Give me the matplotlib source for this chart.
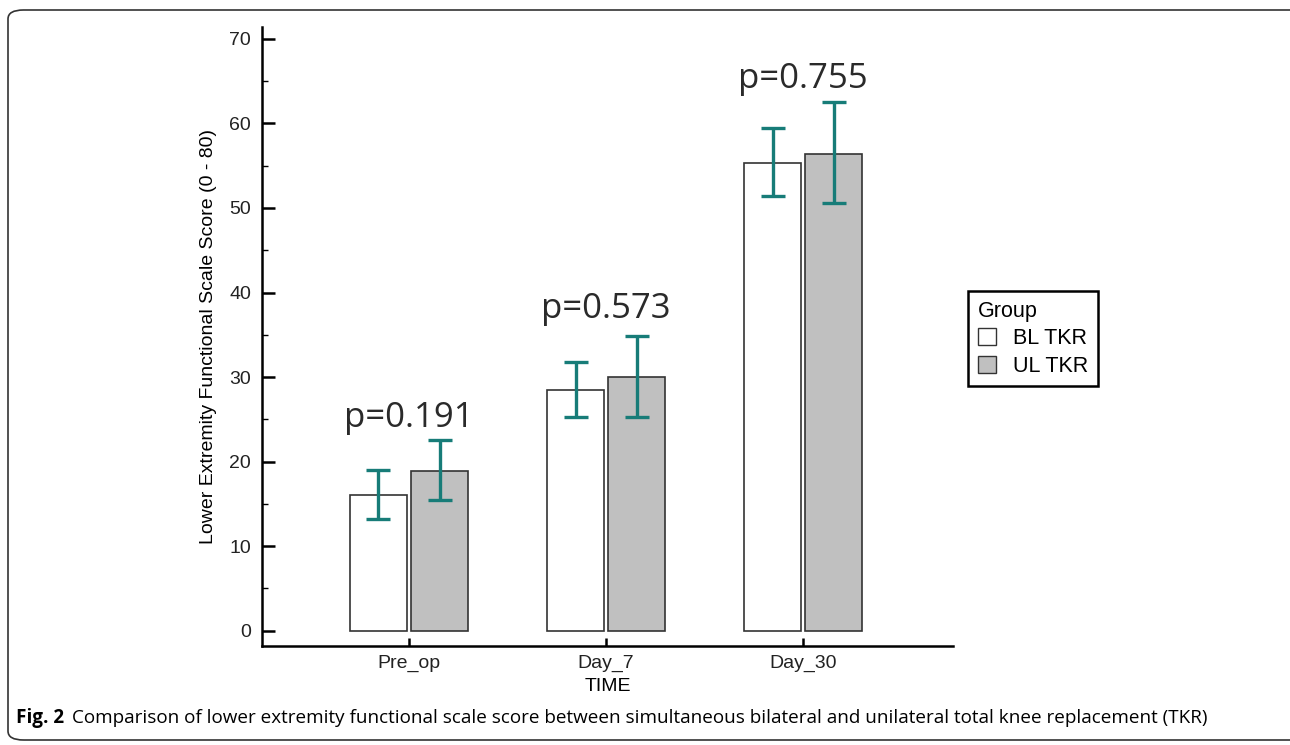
import matplotlib.pyplot as plt
import numpy as np
from matplotlib.patches import FancyBboxPatch, Patch

# data
times = ["Pre_op", "Day_7", "Day_30"]
bl_mean = [16.1, 28.5, 55.3]
bl_low = [13.2, 25.3, 51.4]
bl_high = [19.0, 31.8, 59.5]
ul_mean = [18.9, 30.0, 56.4]
ul_low = [15.5, 25.3, 50.6]
ul_high = [22.5, 34.8, 62.5]
p_labels = ["p=0.191", "p=0.573", "p=0.755"]
p_heights = [25.2, 38.0, 65.2]

teal = "#177c78"
edge = "#333333"

fig = plt.figure(figsize=(12.9, 7.45), dpi=100)
ax = fig.add_axes([0.2031, 0.1329, 0.5357, 0.8309])

x = np.arange(len(times))
w = 0.29
off = 0.155

bl_err = [np.subtract(bl_mean, bl_low), np.subtract(bl_high, bl_mean)]
ul_err = [np.subtract(ul_mean, ul_low), np.subtract(ul_high, ul_mean)]

ax.bar(x - off, bl_mean, w, color="white", edgecolor=edge, linewidth=1.2, zorder=2)
ax.bar(x + off, ul_mean, w, color="#c0c0c0", edgecolor=edge, linewidth=1.2, zorder=2)
ax.errorbar(x - off, bl_mean, yerr=bl_err, fmt="none", ecolor=teal,
            elinewidth=2.4, capsize=8.5, capthick=2.4, zorder=3)
ax.errorbar(x + off, ul_mean, yerr=ul_err, fmt="none", ecolor=teal,
            elinewidth=2.4, capsize=8.5, capthick=2.4, zorder=3)

for xi, lab, h in zip(x, p_labels, p_heights):
    ax.text(xi, h, lab, ha="center", va="center", fontsize=25,
            family="Open Sans", color="#2a2a2a")

ax.set_xlim(-0.746, 2.761)
ax.set_ylim(-1.8, 71.4)
ax.set_yticks(np.arange(0, 71, 10))
ax.set_yticks(np.arange(5, 70, 10), minor=True)
ax.set_xticks(x)
ax.set_xticklabels(times)
for s in ["top", "right"]:
    ax.spines[s].set_visible(False)
for s in ["left", "bottom"]:
    ax.spines[s].set_linewidth(1.8)
ax.tick_params(axis="y", which="major", direction="in", length=9.5, width=1.8,
               labelsize=14, pad=8)
ax.tick_params(axis="y", which="minor", direction="in", length=4.3, width=1)
ax.tick_params(axis="x", direction="in", length=6, width=1.8, labelsize=14, pad=6)
for lab in ax.get_xticklabels() + ax.get_yticklabels():
    lab.set_family("Liberation Sans")
    lab.set_color("#222222")

ax.set_xlabel("TIME", fontsize=14, family="Liberation Sans", labelpad=5)
ax.set_ylabel("Lower Extremity Functional Scale Score (0 - 80)", fontsize=14,
              family="Liberation Sans", labelpad=9)

handles = [Patch(facecolor="white", edgecolor=edge, linewidth=1),
           Patch(facecolor="#c0c0c0", edgecolor=edge, linewidth=1)]
leg = fig.legend(handles, ["BL TKR", "UL TKR"], title="Group", loc="upper left",
                 bbox_to_anchor=(0.7504, 0.6094), borderaxespad=0,
                 fancybox=False, framealpha=1,
                 edgecolor="black", handlelength=0.85, handleheight=0.85,
                 handletextpad=0.8, borderpad=0.45, labelspacing=0.3,
                 prop={"family": "Liberation Sans", "size": 15.5},
                 title_fontproperties={"family": "Liberation Sans", "size": 15.5},
                 alignment="left")
leg.get_frame().set_linewidth(1.8)

# rounded frame around the figure panel
frame = FancyBboxPatch((8 / 1290, 5 / 745), 1300 / 1290, 730 / 745,
                       boxstyle="round,pad=0,rounding_size=0.012",
                       transform=fig.transFigure, fill=False,
                       edgecolor="#333333", linewidth=1.2)
fig.patches.append(frame)

fig.text(16 / 1290, 1 - 718 / 745, "Fig. 2", fontsize=13.6, fontweight="bold",
         family="Open Sans", va="center", ha="left")
fig.text(72 / 1290, 1 - 718 / 745,
         "Comparison of lower extremity functional scale score between simultaneous "
         "bilateral and unilateral total knee replacement (TKR)",
         fontsize=13.6, family="Open Sans", va="center", ha="left")

fig.savefig("out.png", dpi=100)
